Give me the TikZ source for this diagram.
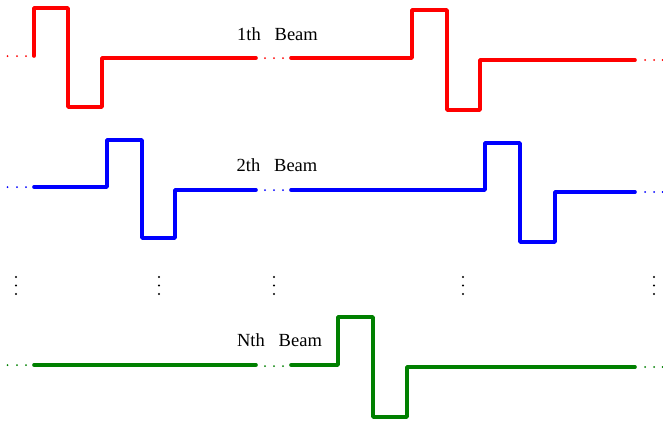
\documentclass[tikz,border=0pt]{standalone}
\usepackage{fontspec}
\setmainfont{Liberation Serif}
\definecolor{bred}{RGB}{255,0,0}
\definecolor{bblue}{RGB}{0,0,255}
\definecolor{bgreen}{RGB}{0,128,0}
\begin{document}
\begin{tikzpicture}[x=1pt,y=-1pt,
  wave/.style={line width=3.6pt,line join=round,line cap=round},
  lbl/.style={font=\fontsize{18.5}{21}\selectfont,inner sep=0pt,anchor=center}]
\useasboundingbox (0,0) rectangle (663,424);
% beam 1
\draw[wave,bred] (34,56)--(34,8)--(68,8)--(68,107)--(102,107)--(102,58)--(256,58);
\draw[wave,bred] (291,58)--(412,58)--(412,10)--(447,10)--(447,110)--(480,110)--(480,60)--(635,60);
\foreach \x in {7.5,17,26}{\fill[bred] (\x,56) circle[radius=1pt];}
\foreach \x in {265,274,283}{\fill[bred] (\x,58) circle[radius=1pt];}
\foreach \x in {645,654,662.5}{\fill[bred] (\x,60) circle[radius=1pt];}
\node[lbl] (l1) at (277.5,34) {1th\hspace{0.75em}Beam};
% beam 2
\draw[wave,bblue] (34,187)--(107,187)--(107,140)--(142,140)--(142,238)--(175,238)--(175,190)--(256,190);
\draw[wave,bblue] (291,190)--(485,190)--(485,143)--(520,143)--(520,242)--(555,242)--(555,192)--(635,192);
\foreach \x in {7.5,17,26}{\fill[bblue] (\x,187) circle[radius=1pt];}
\foreach \x in {265,274,283}{\fill[bblue] (\x,190) circle[radius=1pt];}
\foreach \x in {645,654,662.5}{\fill[bblue] (\x,192) circle[radius=1pt];}
\node[lbl] (l2) at (277,165) {2th\hspace{0.75em}Beam};
% vertical dots
\foreach \x in {16,159,274,463,654}{
  \foreach \y in {277,285.5,294}{\fill[black] (\x,\y) circle[radius=1.2pt];}}
% beam N
\draw[wave,bgreen] (34,365)--(256,365);
\draw[wave,bgreen] (291,365)--(338,365)--(338,317)--(373,317)--(373,417)--(407,417)--(407,367)--(635,367);
\foreach \x in {7.5,17,26}{\fill[bgreen] (\x,365) circle[radius=1pt];}
\foreach \x in {265,274,283}{\fill[bgreen] (\x,366) circle[radius=1pt];}
\foreach \x in {645,654,662.5}{\fill[bgreen] (\x,367) circle[radius=1pt];}
\node[lbl] (ln) at (279.5,340) {Nth\hspace{0.75em}Beam};
\end{tikzpicture}
\end{document}
